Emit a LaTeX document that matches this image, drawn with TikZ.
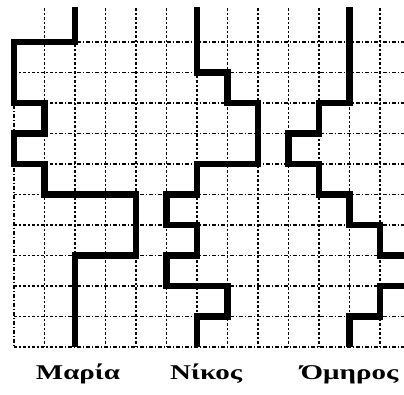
\documentclass[tikz,border=0pt]{standalone}
\usepackage{fontspec}
\setmainfont{Liberation Serif}
\begin{document}
\begin{tikzpicture}[x=30.5pt,y=-30.5pt,
  gridline/.style={line width=1.5pt,dash pattern=on 3.5pt off 2pt on 1.5pt off 2pt},
  route/.style={line width=6.3pt,line join=miter,line cap=butt},
  namelabel/.style={inner sep=0pt,anchor=base}]
\useasboundingbox (-0.459,-1.377) rectangle (12.787,11.541);
\clip (-0.459,-1.377) rectangle (12.787,11.541);
% grid
\foreach \j in {0,...,10} \draw[gridline] (0,\j) -- (13.2,\j);
\draw[gridline] (0,0) -- (0,10);
\foreach \i in {1,...,13} \draw[gridline] (\i,-1.12) -- (\i,10);
% Maria
\draw[route] (2,-1.15) -- (2,0) -- (0,0) -- (0,2) -- (1,2) -- (1,3) -- (0,3) -- (0,4) -- (1,4) -- (1,5) -- (4,5) -- (4,7) -- (2,7) -- (2,10);
% Nikos
\draw[route] (6,-1.15) -- (6,1) -- (7,1) -- (7,2) -- (8,2) -- (8,4) -- (6,4) -- (6,5) -- (5,5) -- (5,6) -- (6,6) -- (6,7) -- (5,7) -- (5,8) -- (7,8) -- (7,9) -- (6,9) -- (6,10);
% Omiros
\draw[route] (11,-1.15) -- (11,2) -- (10,2) -- (10,3) -- (9,3) -- (9,4) -- (10,4) -- (10,5) -- (11,5) -- (11,6) -- (12,6) -- (12,7) -- (13,7) -- (13,8) -- (12,8) -- (12,9) -- (11,9) -- (11,10);
% labels
\newcommand{\lbltext}[1]{\scalebox{1.38}[1.0]{\bfseries\fontsize{21}{23}\selectfont #1}}
\node[namelabel] (maria) at (2.1,11.05) {\lbltext{Μαρία}};
\node[namelabel] (nikos) at (6.3,11.05) {\lbltext{Νίκος}};
\node[namelabel] (omiros) at (11.0,11.05) {\lbltext{Όμηρος}};
\end{tikzpicture}
\end{document}
